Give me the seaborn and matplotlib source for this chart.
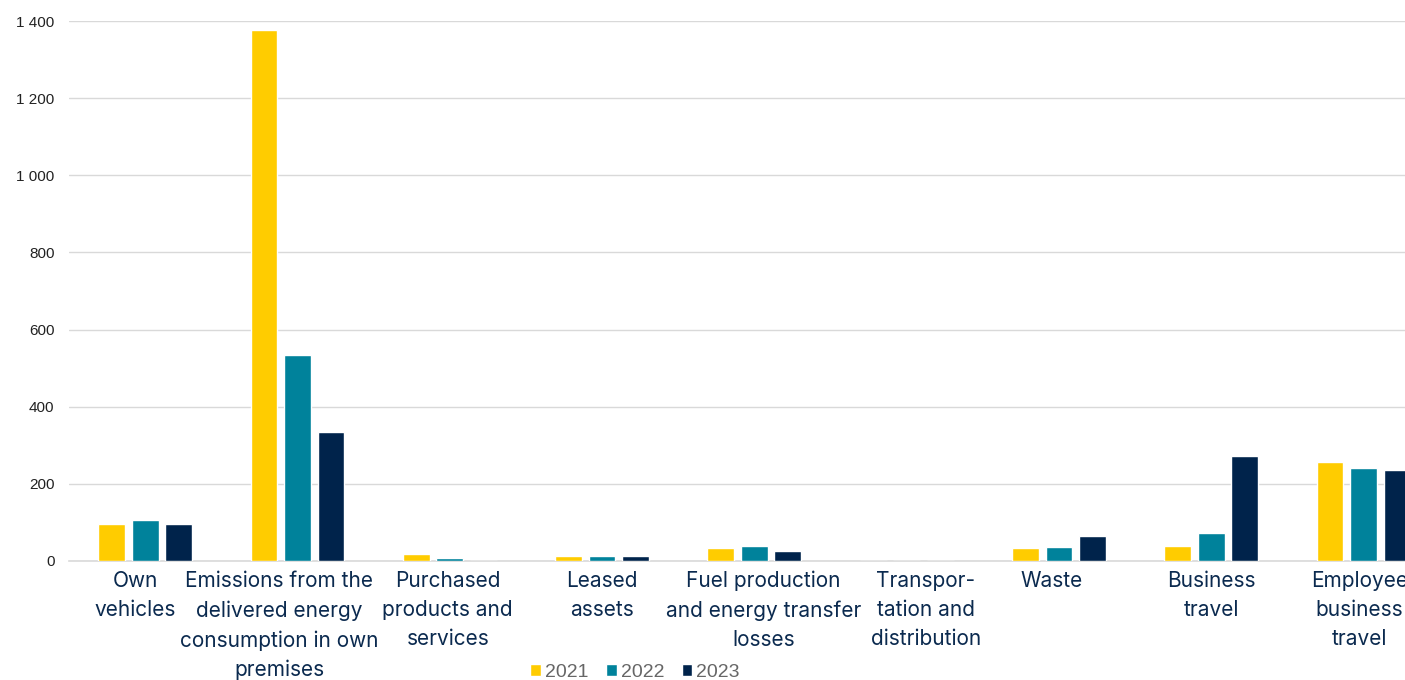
import matplotlib

matplotlib.use("Agg")
import matplotlib.pyplot as plt
import matplotlib.ticker as mticker
import numpy as np
import pandas as pd
import seaborn as sns

categories = [
    "Own vehicles",
    "Emissions from the delivered energy consumption in own premises",
    "Purchased products and services",
    "Leased assets",
    "Fuel production and energy transfer losses",
    "Transportation and distribution",
    "Waste",
    "Business travel",
    "Employee business travel",
]
tick_labels = [
    "Own\nvehicles",
    "Emissions from the\ndelivered energy\nconsumption in own\npremises",
    "Purchased\nproducts and\nservices",
    "Leased\nassets",
    "Fuel production\nand energy transfer\nlosses",
    "Transpor-\ntation and\ndistribution",
    "Waste",
    "Business\ntravel",
    "Employee\nbusiness\ntravel",
]
years = ["2021", "2022", "2023"]
values_2021 = [97, 1377, 18, 14, 33, 0, 33, 39, 257]
values_2022 = [106, 533, 8, 14, 39, 0, 36, 72, 240]
values_2023 = [97, 334, 0, 14, 26, 0, 64, 272, 235]
y_ticks = [0, 200, 400, 600, 800, 1000, 1200, 1400]

colors = ["#FFCC00", "#00829B", "#00234B"]
# Excel nudges the wrapped labels sideways so they don't collide
# (fraction of one category slot)
label_shift = [-0.066, -0.118, -0.013, 0.0, 0.059, 0.125, -0.046, 0.0, -0.026]

df = pd.DataFrame(
    {
        "category": categories * 3,
        "year": np.repeat(years, len(categories)),
        "value": values_2021 + values_2022 + values_2023,
    }
)

sns.set_style("white")
plt.rcParams["font.family"] = ["Liberation Sans", "DejaVu Sans"]

fig = plt.figure(figsize=(14.05, 6.8), dpi=100)
ax = fig.add_axes([69 / 1405, 0.175, 1 - 69 / 1405, 0.794])

sns.barplot(
    data=df,
    x="category",
    y="value",
    hue="year",
    palette=colors,
    saturation=1,
    width=0.66,
    gap=0.2,
    ax=ax,
    legend=True,
    zorder=3,
)

ax.set_yticks(y_ticks)
ax.yaxis.set_major_formatter(
    mticker.FuncFormatter(lambda v, p: f"{int(v):,}".replace(",", " "))
)
ax.grid(axis="y", color="#D9D9D9", linewidth=1, zorder=0)
ax.set_axisbelow(True)

for side in ["top", "right", "left"]:
    ax.spines[side].set_visible(False)
ax.spines["bottom"].set_color("#D9D9D9")
ax.spines["bottom"].set_linewidth(1.2)

ax.set_xticks(np.arange(len(categories)) + np.array(label_shift))
ax.set_xticklabels(tick_labels, family=["Inter", "DejaVu Sans"], fontsize=15,
                   color="#0B2A4F", linespacing=1.57)
ax.set_xticks(np.arange(-0.5, len(categories), 1), minor=True)
ax.tick_params(axis="x", which="major", length=0, pad=7)
ax.tick_params(axis="x", which="minor", length=8, color="#D9D9D9", width=1.2)
ax.tick_params(axis="y", length=0, labelsize=11, labelcolor="#222222", pad=10.5)
ax.set_xlabel("")
ax.set_ylabel("")

# limits last, since set_xticks widens the view to the minor ticks
ax.set_xlim(-0.5, 8.272)
ax.set_ylim(0, 1400)

handles, labels = ax.get_legend_handles_labels()
ax.legend_.remove()
fig.legend(
    handles,
    labels,
    loc="center",
    bbox_to_anchor=(0.452, 0.011),
    ncol=3,
    frameon=False,
    fontsize=14,
    labelcolor="#666666",
    handlelength=0.55,
    handleheight=0.55,
    handletextpad=0.2,
    columnspacing=0.9,
)

fig.savefig("out.png", dpi=100)
